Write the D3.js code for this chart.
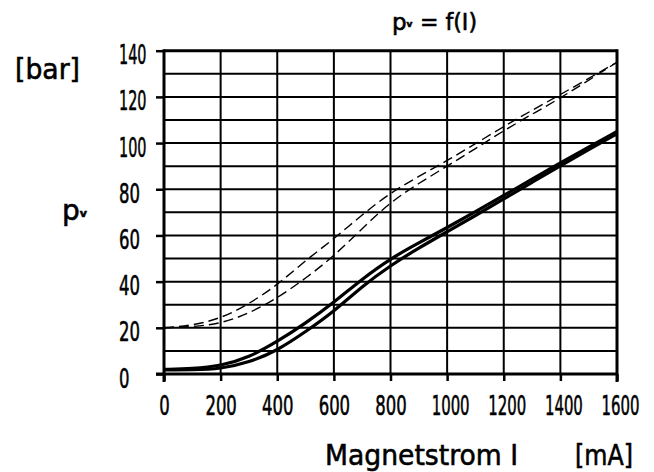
<!DOCTYPE html>
<html>
<head>
<meta charset="utf-8">
<script src="https://cdn.jsdelivr.net/npm/d3@7"></script>
<style>
  html, body { margin: 0; padding: 0; background: #fff; }
  svg { display: block; }
  text { font-family: "DejaVu Sans", sans-serif; fill: #000; stroke: #000; stroke-width: 0.6px; }
</style>
</head>
<body>
<svg id="chart" width="654" height="472"></svg>
<script>
// ---- data ----
const currents = [0, 100, 200, 300, 400, 500, 600, 700, 800, 900, 1000, 1100, 1200, 1300, 1400, 1500, 1600];
const solidUpper = [2, 2.3, 3.5, 7.2, 14, 22, 31, 41.2, 50, 56.8, 63.4, 70.3, 77.3, 84.4, 91.4, 98.3, 105];
const solidLower = [1.8, 1.8, 2.2, 5, 10.1, 18.3, 27, 38, 47, 54.6, 61.6, 68.6, 75.8, 83, 90.2, 97.2, 104];
const dashedUpper = [20, 21, 24, 30.3, 38.5, 49.2, 58.5, 69, 78.5, 85.6, 92.4, 99.7, 107.2, 114.2, 121, 128, 135];
const dashedLower = [20, 20.4, 21.8, 26.2, 32.8, 41.4, 51, 63, 74.5, 82.6, 90, 97.6, 105.4, 112.5, 119.5, 127.2, 135];
const xTicks = [0, 200, 400, 600, 800, 1000, 1200, 1400, 1600];
const yTicks = [0, 20, 40, 60, 80, 100, 120, 140];
const yGrid = [10, 20, 30, 40, 50, 60, 70, 80, 90, 100, 110, 120, 130];
const xGrid = [200, 400, 600, 800, 1000, 1200, 1400];

const svg = d3.select("#chart");
const x = d3.scaleLinear().domain([0, 1600]).range([164, 617]);
const y = d3.scaleLinear().domain([0, 140]).range([374, 50.7]);

function digitWidth(s) {
  let w = 0;
  for (const c of s) w += (c === "1") ? 6.5 : 10.5;
  return w;
}

// grid
const g = svg.append("g");
g.selectAll("line.h").data(yGrid).join("line")
  .attr("x1", x(0)).attr("x2", x(1600))
  .attr("y1", d => y(d)).attr("y2", d => y(d))
  .attr("stroke", "#000").attr("stroke-width", 2);
g.selectAll("line.v").data(xGrid).join("line")
  .attr("x1", d => x(d)).attr("x2", d => x(d))
  .attr("y1", y(140)).attr("y2", y(0))
  .attr("stroke", "#000").attr("stroke-width", 2);

// x axis
const xAxis = svg.append("g").attr("transform", `translate(0,${y(0)})`)
  .call(d3.axisBottom(x).tickValues(xTicks).tickSize(7).tickFormat(d3.format("d")));
xAxis.select(".domain").remove();
xAxis.selectAll(".tick line").attr("stroke", "#000").attr("stroke-width", 2.5);
xAxis.selectAll(".tick text")
  .attr("dy", null).attr("y", 41)
  .style("font-size", "27px")
  .attr("font-family", "DejaVu Sans")
  .attr("fill", "#000")
  .each(function (d) {
    const el = d3.select(this);
    const k = digitWidth(String(d)) / this.getComputedTextLength();
    const shift = d >= 1000 ? 3 : 0;
    el.attr("x", shift / k).attr("transform", `scale(${k},1)`);
  });

// y axis
const yAxis = svg.append("g").attr("transform", `translate(${x(0)},0)`)
  .call(d3.axisLeft(y).tickValues(yTicks).tickSize(8).tickFormat(d3.format("d")));
yAxis.select(".domain").remove();
yAxis.selectAll(".tick line").attr("stroke", "#000").attr("stroke-width", 2.5);
yAxis.selectAll(".tick text")
  .attr("dy", null).attr("y", 13)
  .attr("text-anchor", "start")
  .style("font-size", "27px")
  .attr("font-family", "DejaVu Sans")
  .attr("fill", "#000")
  .each(function (d) {
    const el = d3.select(this);
    const k = digitWidth(String(d)) / this.getComputedTextLength();
    el.attr("x", -45 / k).attr("transform", `scale(${k},1)`);
  });

// frame
const frame = svg.append("g").attr("stroke", "#000").attr("stroke-width", 3);
frame.append("line").attr("x1", x(0)).attr("x2", x(1600)).attr("y1", y(140)).attr("y2", y(140));
frame.append("line").attr("x1", x(1600)).attr("x2", x(1600)).attr("y1", y(140) - 1.5).attr("y2", y(0) + 8);
frame.append("line").attr("x1", x(0)).attr("x2", x(0)).attr("y1", y(140) - 1.5).attr("y2", y(0) + 8);
frame.append("line").attr("x1", x(0) - 8).attr("x2", x(1600)).attr("y1", y(0)).attr("y2", y(0));

// curves
const line = d3.line().x((d, i) => x(currents[i])).y(d => y(d)).curve(d3.curveBasis);
svg.append("path").attr("d", line(dashedUpper)).attr("fill", "none")
  .attr("stroke", "#000").attr("stroke-width", 1.4).attr("stroke-dasharray", "10,5");
svg.append("path").attr("d", line(dashedLower)).attr("fill", "none")
  .attr("stroke", "#000").attr("stroke-width", 1.4).attr("stroke-dasharray", "10,5");
svg.append("path").attr("d", line(solidUpper)).attr("fill", "none")
  .attr("stroke", "#000").attr("stroke-width", 3.2);
svg.append("path").attr("d", line(solidLower)).attr("fill", "none")
  .attr("stroke", "#000").attr("stroke-width", 3.2);

// labels
svg.append("text").attr("x", 15).attr("y", 79)
  .style("font-size", "28px")
  .attr("textLength", 65).attr("lengthAdjust", "spacingAndGlyphs")
  .text("[bar]");

const yl = svg.append("text").attr("x", 62).attr("y", 220).style("font-size", "28px");
yl.append("tspan").text("p");
yl.append("tspan").attr("dy", -3).style("font-size", "11px").style("font-weight", "bold").text("v");

const title = svg.append("text").attr("x", 392).attr("y", 30).style("font-size", "23px");
title.append("tspan").text("p");
title.append("tspan").style("font-size", "9px").style("font-weight", "bold").attr("dy", -3).text("v");
title.append("tspan").attr("dy", 3).attr("x", 420).attr("textLength", 57).attr("lengthAdjust", "spacingAndGlyphs").text("= f(I)");

svg.append("text").attr("x", 325).attr("y", 465)
  .style("font-size", "29px")
  .attr("textLength", 193).attr("lengthAdjust", "spacingAndGlyphs")
  .text("Magnetstrom I");
svg.append("text").attr("x", 575).attr("y", 465)
  .style("font-size", "29px")
  .attr("textLength", 58).attr("lengthAdjust", "spacingAndGlyphs")
  .text("[mA]");
</script>
</body>
</html>
